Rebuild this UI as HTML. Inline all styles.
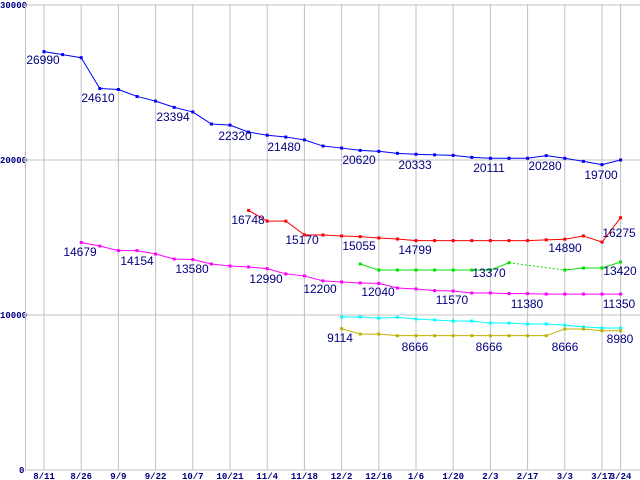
<!DOCTYPE html>
<html><head><meta charset="utf-8"><style>
body{margin:0;background:#fff;}
svg{display:block;font-family:"Liberation Sans",sans-serif;}
.t{font-size:12px;fill:#000080;text-anchor:middle;}
.k{font-size:9px;fill:#000080;font-family:"Liberation Mono",monospace;font-weight:bold;}
</style></head><body>
<svg id="c" width="640" height="480" xmlns="http://www.w3.org/2000/svg"></svg>
<script>
const xLabels=["8/11","8/26","9/9","9/22","10/7","10/21","11/4","11/18","12/2","12/16","1/6","1/20","2/3","2/17","3/3","3/17","3/24"];
const xLabelIdx=[0,2,4,6,8,10,12,14,16,18,20,22,24,26,28,30,31];
const yTicks=[0,10000,20000,30000];
const blue=[26990,26800,26600,24610,24550,24100,23800,23394,23100,22320,22250,21800,21600,21480,21300,20900,20770,20620,20560,20430,20370,20333,20300,20170,20111,20111,20111,20280,20111,19910,19700,20000];
const red=[null,null,null,null,null,null,null,null,null,null,null,16748,16060,16060,15170,15160,15100,15055,14970,14900,14799,14799,14799,14799,14799,14799,14799,14850,14890,15100,14700,16275];
const magenta=[null,null,14679,14450,14154,14154,13935,13610,13580,13290,13160,13100,12990,12650,12520,12200,12130,12065,12040,11740,11680,11570,11550,11420,11420,11380,11380,11350,11350,11350,11350,11350];
const green=[null,null,null,null,null,null,null,null,null,null,null,null,null,null,null,null,null,13290,12900,12900,12900,12900,12900,12900,12900,13370,null,null,12900,13030,13030,13420];
const cyan=[null,null,null,null,null,null,null,null,null,null,null,null,null,null,null,null,9870,9870,9800,9850,9740,9680,9610,9610,9480,9480,9420,9420,9350,9230,9160,9160];
const yellow=[null,null,null,null,null,null,null,null,null,null,null,null,null,null,null,null,9114,8770,8770,8666,8666,8666,8666,8666,8666,8666,8666,8666,9100,9100,8980,8980];
const labels=[
[26990,43,64],[24610,98,102],[23394,173,121],[22320,235,140],[21480,284,151],[20620,359,164],[20333,415,169],[20111,489,172],[20280,545,170],[19700,601,179],
[16748,248,224],[15170,302,244],[15055,359,250],[14799,415,254],[14890,565,252],[16275,619,237],
[14679,80,256],[14154,137,265],[13580,192,273],[12990,266,283],[12200,320,293],[12040,378,296],[11570,452,304],[11380,527,308],[11350,619,308],
[13370,489,277],[13420,620,275],
[9114,340,342],[8666,415,351],[8666,489,351],[8666,565,351],[8980,620,343]];
const NS="http://www.w3.org/2000/svg",svg=document.getElementById('c');
const X=i=>44+18.6*i, Y=v=>470-v*155/10000;
function mk(tag,a){const e=document.createElementNS(NS,tag);for(const k in a)e.setAttribute(k,a[k]);svg.appendChild(e);return e;}
yTicks.forEach(v=>{const l=mk('line',{x1:25,x2:640,y1:Y(v),y2:Y(v),stroke:'#c0c0c0','stroke-width':1});


const t=mk('text',{x:v===0?19:0,y:Y(v)+3,class:'k'});t.textContent=v;

});
xLabelIdx.forEach((i,j)=>{const l=mk('line',{x1:X(i),x2:X(i),y1:4,y2:470,stroke:'#c0c0c0','stroke-width':1});


const t=mk('text',{x:X(i),y:479,class:'k','text-anchor':'middle'});t.textContent=xLabels[j];

});
const ax=mk('line',{x1:25.5,x2:25.5,y1:4,y2:470,stroke:'#c0c0c0'});


function series(arr,col,name){
 for(let i=1;i<arr.length;i++){
  if(arr[i]==null)continue;
  let p=i-1;while(p>=0&&arr[p]==null)p--;
  if(p<0)continue;
  const l=mk('line',{x1:X(p),y1:Y(arr[p]),x2:X(i),y2:Y(arr[i]),stroke:col,'stroke-width':1});
  if(i-p>1)l.setAttribute('stroke-dasharray','2,2');
  
  
 }
 arr.forEach((v,i)=>{if(v==null)return;
  const r=mk('rect',{x:X(i)-1.5,y:Y(v)-1.5,width:3,height:3,fill:col});
  
  });
}
series(blue,'#0000ff','blue-series');
series(red,'#ff0000','red-series');
series(magenta,'#ff00ff','magenta-series');
series(green,'#00e000','green-series');
series(cyan,'#00ffff','cyan-series');
series(yellow,'#c0b000','yellow-series');
labels.forEach(a=>{const t=mk('text',{x:a[1],y:a[2],class:'t'});t.textContent=a[0];

});
</script>
</body></html>
